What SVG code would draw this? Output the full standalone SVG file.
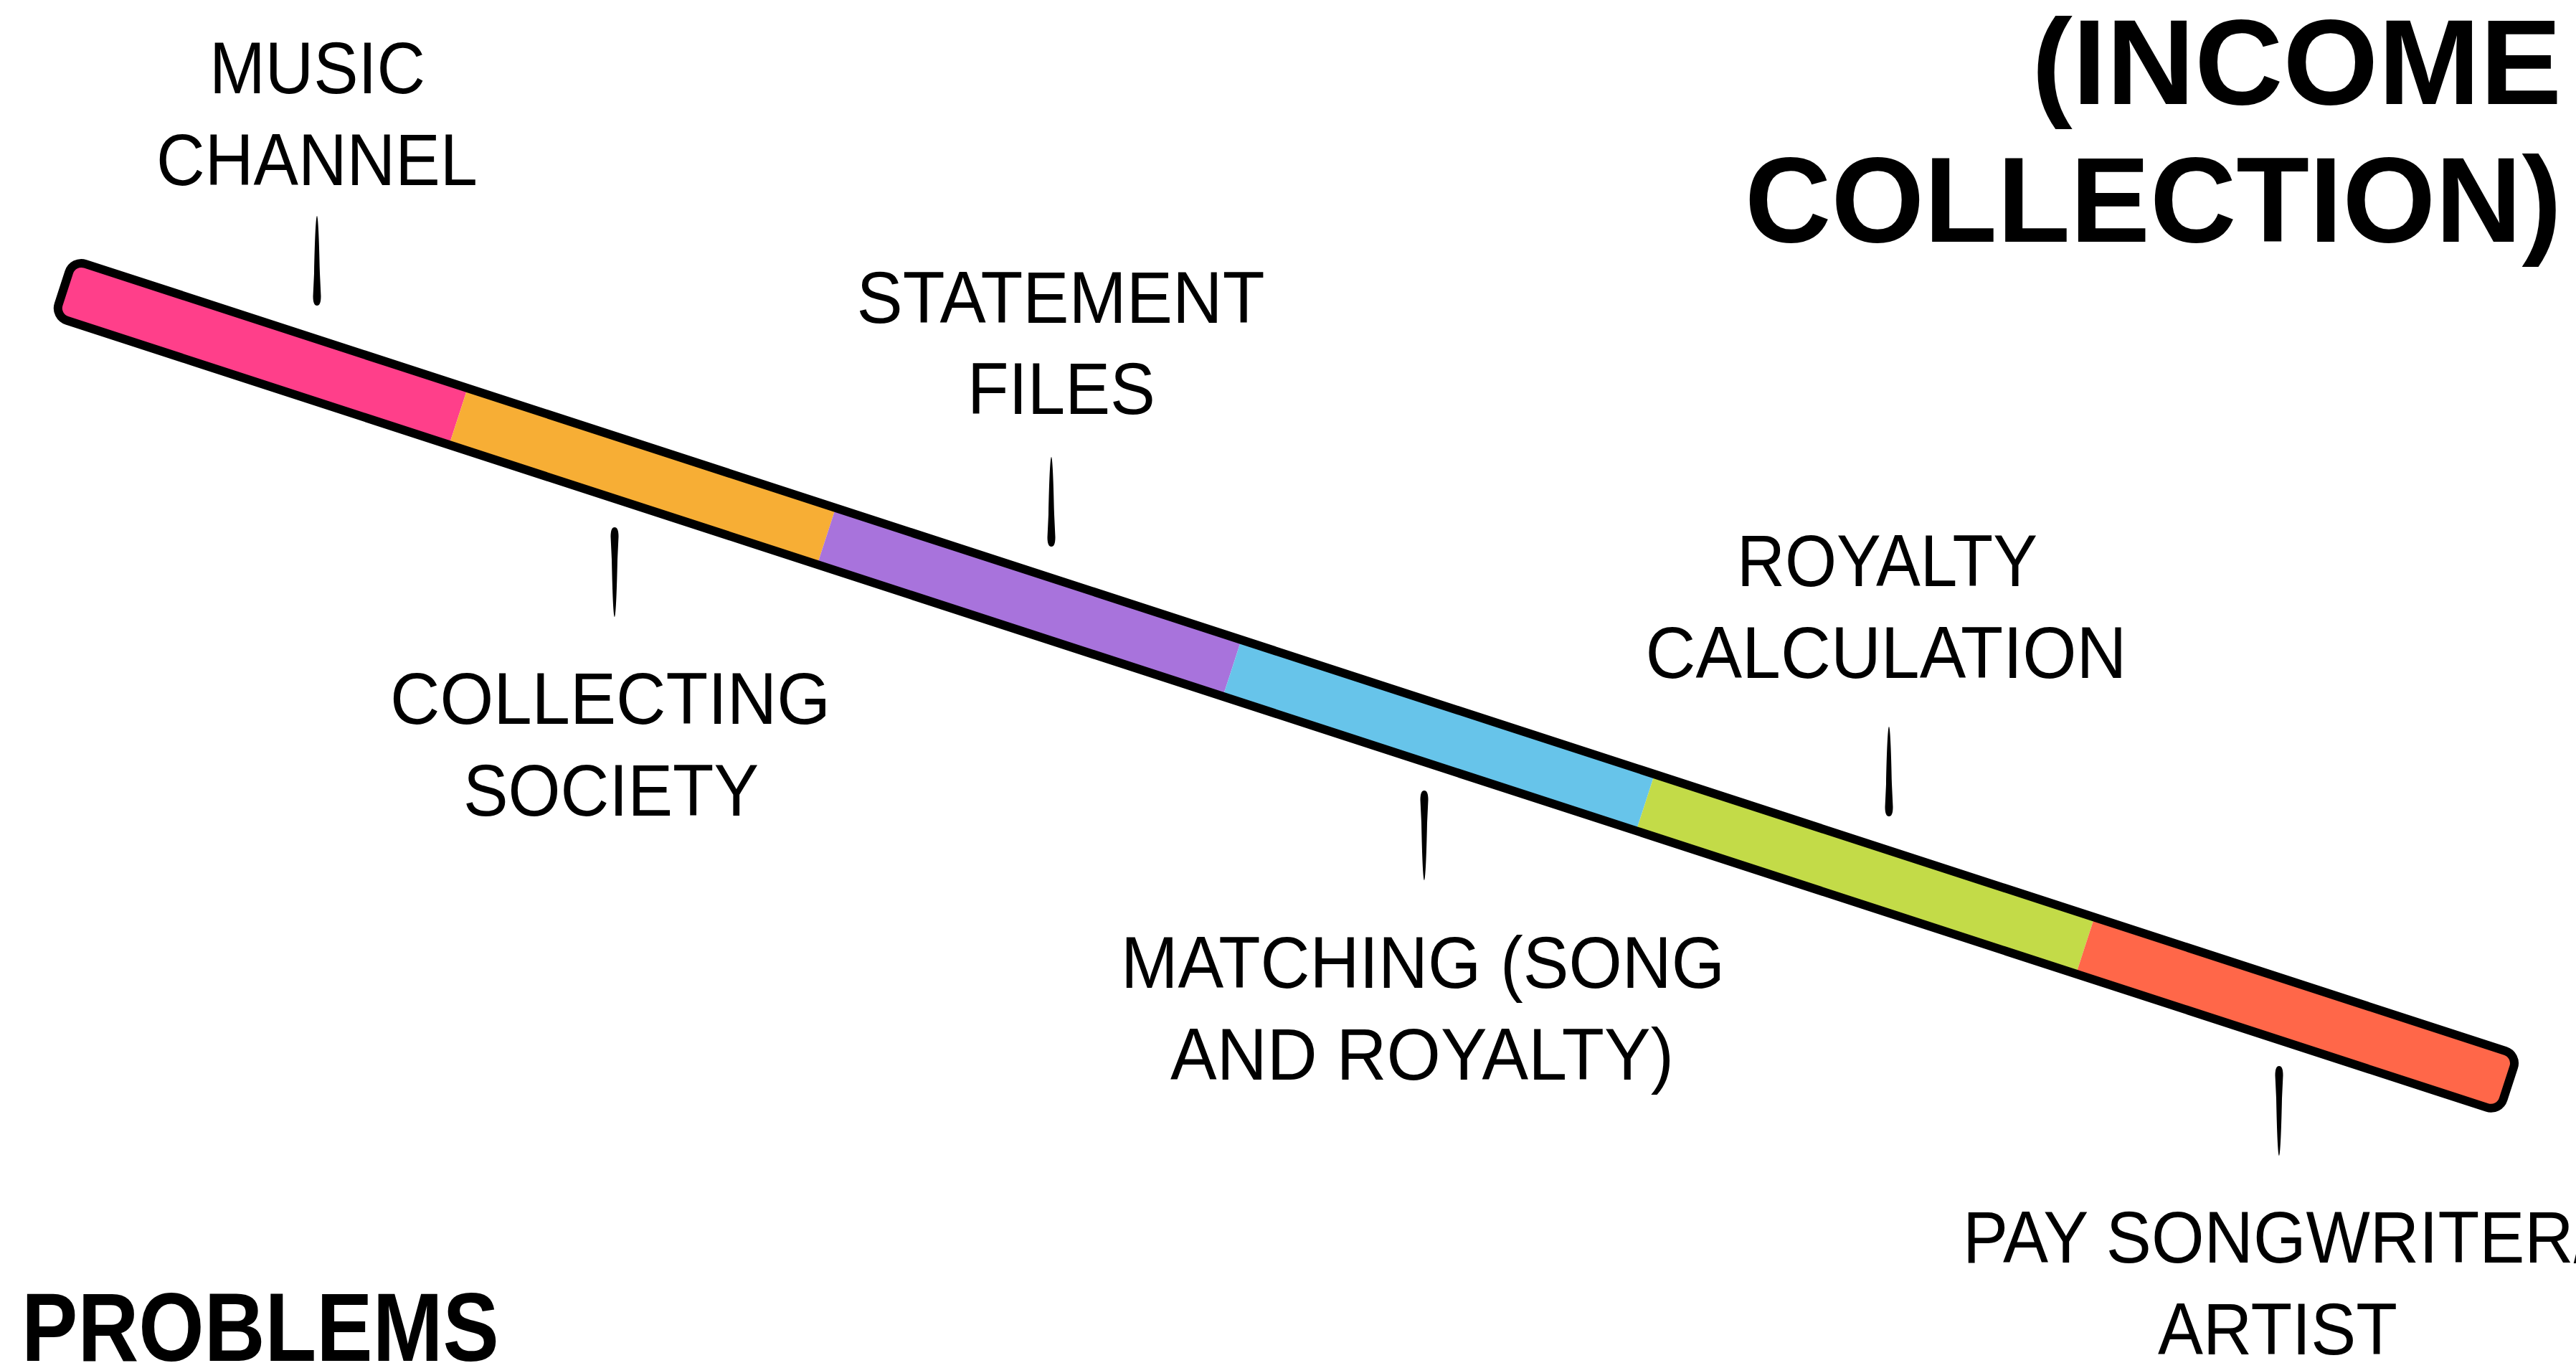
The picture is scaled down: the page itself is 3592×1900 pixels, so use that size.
<svg xmlns="http://www.w3.org/2000/svg" width="3592" height="1900" viewBox="0 0 3592 1900">
<style>
.lbl{font-family:"Liberation Sans",Arial,sans-serif;font-size:102px;fill:#000;text-anchor:middle}
.ttl{font-family:"Liberation Sans",Arial,sans-serif;font-weight:bold;font-size:168px;fill:#000;text-anchor:end}
.prb{font-family:"Liberation Sans",Arial,sans-serif;font-weight:bold;font-size:135px;fill:#000}
.tick{fill:#000}
</style>
<defs>
<path id="tick" d="M0,0 C1.5,0 3,30 4,80 L5.5,112 Q5.5,125 0,125 Q-5.5,125 -5.5,112 L-4,80 C-3,30 -1.5,0 0,0 Z"/>
<clipPath id="barclip"><rect x="-1128" y="-41.5" width="3584.5" height="83" rx="18"/></clipPath>
</defs>
<rect width="3592" height="1900" fill="#fff"/>

<g id="timeline" transform="translate(1161.7,750.5) rotate(18.01)">
  <g clip-path="url(#barclip)">
    <rect id="seg-music" x="-1140" y="-50" width="590.5" height="100" fill="#FF3F8A"/>
    <rect id="seg-collecting" x="-549.5" y="-50" width="539.8" height="100" fill="#F7AE35"/>
    <rect id="seg-statement" x="-9.7" y="-50" width="594.7" height="100" fill="#A873DC"/>
    <rect id="seg-matching" x="585" y="-50" width="606" height="100" fill="#67C4EA"/>
    <rect id="seg-royalty" x="1191" y="-50" width="645" height="100" fill="#C3DB48"/>
    <rect id="seg-pay" x="1836" y="-50" width="640" height="100" fill="#FF6749"/>
  </g>
  <rect x="-1128" y="-41.5" width="3584.5" height="83" rx="18" fill="none" stroke="#000" stroke-width="12"/>
</g>

<g id="connectors">
  <use href="#tick" class="tick" transform="translate(442,301)"/>
  <use href="#tick" class="tick" transform="translate(1466,637)"/>
  <use href="#tick" class="tick" transform="translate(2634,1013)"/>
  <use href="#tick" class="tick" transform="translate(857,860) scale(1,-1)"/>
  <use href="#tick" class="tick" transform="translate(1986,1227) scale(1,-1)"/>
  <use href="#tick" class="tick" transform="translate(3178,1611) scale(1,-1)"/>
</g>

<g id="music-channel">
  <text class="lbl" x="442.5" y="129.5" textLength="301" lengthAdjust="spacingAndGlyphs">MUSIC</text>
  <text class="lbl" x="442" y="257.6" textLength="448" lengthAdjust="spacingAndGlyphs">CHANNEL</text>
</g>
<g id="statement-files">
  <text class="lbl" x="1479" y="449.6" textLength="569" lengthAdjust="spacingAndGlyphs">STATEMENT</text>
  <text class="lbl" x="1480" y="576.8" textLength="262" lengthAdjust="spacingAndGlyphs">FILES</text>
</g>
<g id="collecting-society">
  <text class="lbl" x="851" y="1008.5" textLength="614" lengthAdjust="spacingAndGlyphs">COLLECTING</text>
  <text class="lbl" x="852" y="1136.5" textLength="412" lengthAdjust="spacingAndGlyphs">SOCIETY</text>
</g>
<g id="matching">
  <text class="lbl" x="1984" y="1377" textLength="842" lengthAdjust="spacingAndGlyphs">MATCHING (SONG</text>
  <text class="lbl" x="1983" y="1505" textLength="702" lengthAdjust="spacingAndGlyphs">AND ROYALTY)</text>
</g>
<g id="royalty-calculation">
  <text class="lbl" x="2631.5" y="817" textLength="419" lengthAdjust="spacingAndGlyphs">ROYALTY</text>
  <text class="lbl" x="2630" y="945" textLength="671" lengthAdjust="spacingAndGlyphs">CALCULATION</text>
</g>
<g id="pay-songwriter">
  <text class="lbl" x="3176" y="1760" textLength="878" lengthAdjust="spacingAndGlyphs">PAY SONGWRITER/</text>
  <text class="lbl" x="3176" y="1888" textLength="334" lengthAdjust="spacingAndGlyphs">ARTIST</text>
</g>
<g id="title">
  <text class="ttl" x="3572" y="145" textLength="739" lengthAdjust="spacingAndGlyphs">(INCOME</text>
  <text class="ttl" x="3572" y="337" textLength="1139" lengthAdjust="spacingAndGlyphs">COLLECTION)</text>
</g>
<g id="problems">
  <text class="prb" x="30" y="1897" textLength="666" lengthAdjust="spacingAndGlyphs">PROBLEMS</text>
</g>
</svg>
